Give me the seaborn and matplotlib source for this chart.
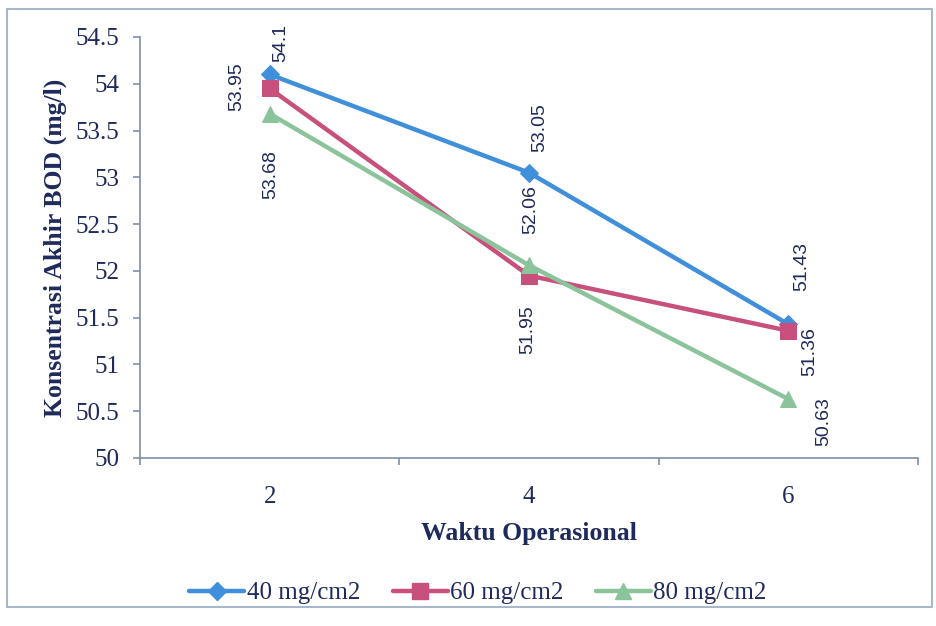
import matplotlib
matplotlib.use("Agg")
import matplotlib.pyplot as plt
from matplotlib.patches import Rectangle
from matplotlib.lines import Line2D
import seaborn as sns
import pandas as pd

# ---- data ----
categories = ["2", "4", "6"]
series_names = ["40 mg/cm2", "60 mg/cm2", "80 mg/cm2"]
vals_40 = [54.1, 53.05, 51.43]
vals_60 = [53.95, 51.95, 51.36]
vals_80 = [53.68, 52.06, 50.63]
y_ticks = [50, 50.5, 51, 51.5, 52, 52.5, 53, 53.5, 54, 54.5]

# ---- styles ----
colors = {"40 mg/cm2": "#3F8FDA", "60 mg/cm2": "#C8507C", "80 mg/cm2": "#8BC49A"}
markers = {"40 mg/cm2": "D", "60 mg/cm2": "s", "80 mg/cm2": "^"}
msizes = {"40 mg/cm2": 9, "60 mg/cm2": 11, "80 mg/cm2": 12}
# label offsets in pixels (dx, dy) per series per point
label_offsets = {
    "40 mg/cm2": [(11, 31), (11, 45), (13, 58)],
    "60 mg/cm2": [(-33, 2), (-1, -54), (21, -21)],
    "80 mg/cm2": [(1, -61), (2, 56), (35, -23)],
}
navy = "#1F2A5C"
serif = ["Liberation Serif", "DejaVu Serif"]

sns.set_theme(style="white")
plt.rcParams["font.family"] = serif

rows = []
for name, vals in zip(series_names, [vals_40, vals_60, vals_80]):
    for i, (c, v) in enumerate(zip(categories, vals)):
        rows.append({"series": name, "pos": i, "cat": c, "value": v})
df = pd.DataFrame(rows)

fig = plt.figure(figsize=(9.37, 6.26), dpi=100)
ax = fig.add_axes([140 / 937, 1 - 458 / 626, (918 - 140) / 937, (458 - 37) / 626])

for name in series_names:
    sub = df[df["series"] == name]
    sns.lineplot(data=sub, x="pos", y="value", ax=ax, color=colors[name],
                 marker=markers[name], markersize=msizes[name],
                 markeredgecolor=colors[name], linewidth=3.2, legend=False)
    for (_, r), (dx, dy) in zip(sub.iterrows(), label_offsets[name]):
        ax.annotate(f"{r['value']:g}", (r["pos"], r["value"]), xytext=(dx, dy),
                    textcoords="offset pixels", rotation=90, ha="center", va="center",
                    fontsize=14, color=navy, family=["Liberation Sans", "DejaVu Sans"])

ax.set_xlim(-0.5, 2.5)
ax.set_ylim(50, 54.5)
ax.set_yticks(y_ticks)
ax.set_yticklabels([f"{t:g}" for t in y_ticks])
ax.set_xticks([0, 1, 2])
ax.set_xticklabels(categories)
ax.set_xticks([-0.5, 0.5, 1.5, 2.5], minor=True)

for s in ["top", "right"]:
    ax.spines[s].set_visible(False)
for s in ["left", "bottom"]:
    ax.spines[s].set_color("#7F8FA8")
    ax.spines[s].set_linewidth(1.2)

ax.tick_params(axis="y", which="major", length=5, width=1.2, color="#7F8FA8",
               labelsize=18, labelcolor=navy, pad=10, left=True)
ax.tick_params(axis="x", which="major", length=0, labelsize=18, labelcolor=navy, pad=20)
ax.tick_params(axis="x", which="minor", length=5, width=1.2, color="#7F8FA8", bottom=True,
               direction="out")

ax.set_xlabel("Waktu Operasional", fontsize=18.5, fontweight="bold", color=navy, labelpad=10)
ax.set_ylabel("Konsentrasi Akhir BOD (mg/l)", fontsize=18.5, fontweight="bold", color=navy, labelpad=6)
ax.grid(False)

handles = [Line2D([0], [0], color=colors[n], marker=markers[n], markersize=msizes[n],
                  linewidth=3.2, markeredgecolor=colors[n]) for n in series_names]
fig.legend(handles, series_names, loc="center", bbox_to_anchor=(478 / 937, 1 - 593 / 626),
           ncol=3, frameon=False, fontsize=18, handlelength=2.2, handletextpad=0.1,
           columnspacing=1.3, labelcolor=navy)

fig.patches.append(Rectangle((7 / 937, 1 - 607 / 626), (932 - 7) / 937, (607 - 9) / 626,
                             transform=fig.transFigure, fill=False,
                             edgecolor="#A9B7CC", linewidth=1.5))

fig.savefig("out.png", dpi=100)
